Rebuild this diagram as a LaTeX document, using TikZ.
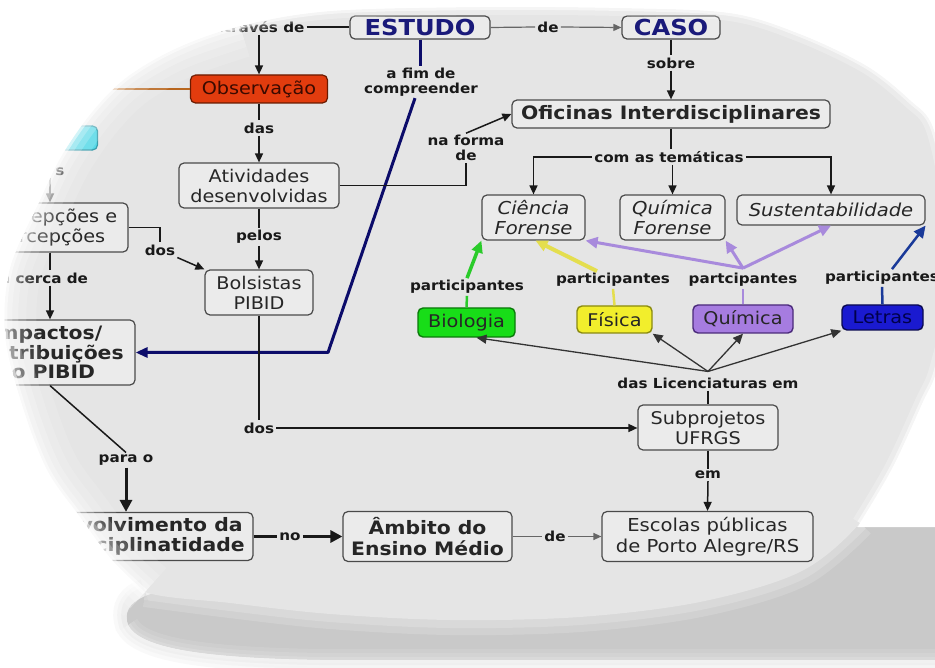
\documentclass[tikz,border=0pt]{standalone}
\usepackage{fontspec}
\setmainfont{DejaVu Sans}[FakeStretch=1.1]
\usetikzlibrary{arrows.meta,calc}

\definecolor{pagegray}{HTML}{E5E5E5}
\definecolor{boxfill}{HTML}{EBEBEB}
\definecolor{boxline}{HTML}{4A4A4A}
\definecolor{shadowgray}{HTML}{C9C9C9}
\definecolor{navy}{HTML}{0C0C6A}
\definecolor{titleblue}{HTML}{1A1A7A}
\definecolor{obsred}{HTML}{E23C0E}
\definecolor{obsline}{HTML}{6A1A00}
\definecolor{obstext}{HTML}{3A0A00}
\definecolor{bioGreen}{HTML}{18DD18}
\definecolor{bioDark}{HTML}{0A7A0A}
\definecolor{bioLine}{HTML}{2ACB2A}
\definecolor{fisYellow}{HTML}{F2EE2C}
\definecolor{fisDark}{HTML}{8A8A10}
\definecolor{fisLine}{HTML}{E4DE4E}
\definecolor{quiPurple}{HTML}{A67CE0}
\definecolor{quiDark}{HTML}{4A2A7A}
\definecolor{quiLine}{HTML}{A88ADC}
\definecolor{letBlue}{HTML}{1A1AD0}
\definecolor{letDark}{HTML}{0A0A50}
\definecolor{letText}{HTML}{00004A}
\definecolor{letLine}{HTML}{1A3A99}
\definecolor{cyanbox}{HTML}{40D4E4}
\definecolor{cyanDark}{HTML}{2090A0}
\definecolor{orangeline}{HTML}{B8661E}

% rim of the light oval along the white page
\newcommand\rimpoints{(145,592) (112,560) (80,517) (47,470) (22,405) (5,335) (10,268) (40,200) (62,155) (92,112) (127,77) (177,48) (240,26) (330,11) (480,7) (620,8) (730,13) (800,34) (867,66) (910,100) (933,127) (948,200) (951,300) (937,370) (923,402) (893,467) (860,523)}
% left-hand stretch of that rim, which fades more widely
\newcommand\leftrim{plot[smooth, tension=0.55] coordinates {(145,592) (112,560) (80,517) (47,470) (22,405) (5,335) (10,268) (40,200) (62,155) (92,112) (127,77) (177,48) (240,26)}}
% outline of the light oval the map sits on
\newcommand\lightpath{plot[smooth cycle, tension=0.55] coordinates {\rimpoints (800,572) (700,602) (580,617) (450,620) (330,614) (230,603)}}
% part of the oval that borders the white page
\newcommand\edgepath{plot[smooth, tension=0.55] coordinates {\rimpoints}}
% part of the oval that borders its shadow
\newcommand\bottompath{plot[smooth, tension=0.55] coordinates {(860,523) (800,572) (700,602) (580,617) (450,620) (330,614) (230,603) (145,592)}}
% drop shadow below the oval
\newcommand\shadowpath{(858,527) -- (945,527) -- (945,660) -- (320,660) .. controls (200,658) and (140,648) .. (128,625) .. controls (120,600) and (150,590) .. (200,585) -- (600,560) -- cycle}
% outer rim of the shadow
\newcommand\shadowrim{(945,660) -- (320,660) .. controls (200,658) and (140,648) .. (128,625) .. controls (122,606) and (132,596) .. (145,592)}
% lower edge of the shadow
\newcommand\shadowfoot{(945,660) -- (320,660) .. controls (200,658) and (140,648) .. (128,625)}
% outline of oval and shadow together
\newcommand\unionpath{plot[smooth, tension=0.55] coordinates {\rimpoints} -- (858,527) -- (945,527) -- (945,660) -- (320,660) .. controls (200,658) and (140,648) .. (128,625) .. controls (122,606) and (132,596) .. (145,592) -- cycle}

\tikzset{
  sz/.style 2 args={minimum width=#1pt, minimum height=#2pt},
  concept/.style={draw=boxline, line width=1.2pt, fill=boxfill, rounded corners=5pt,
    align=center, inner sep=0pt, text=black!85, font=\fontsize{17.5}{20}\selectfont},
  boldconcept/.style={concept, font=\bfseries\fontsize{18.5}{20.5}\selectfont},
  themebox/.style={concept, font=\itshape\fontsize{17.8}{20.5}\selectfont},
  colorbox/.style={concept, line width=1.4pt, font=\fontsize{17.5}{20}\selectfont},
  titlebox/.style={concept, font=\bfseries\fontsize{22}{24}\selectfont, text=titleblue},
  linklabel/.style={font=\bfseries\fontsize{13.8}{14.5}\selectfont, align=center,
    inner sep=2pt, text=black!90},
  link/.style={draw=black!90, line width=1.5pt},
  arrow/.style={link, -{Triangle[length=9pt,width=8pt]}},
  thickarrow/.style={draw=black!90, line width=3pt, -{Triangle[length=12pt,width=12pt]}},
  graylink/.style={draw=black!60, line width=1.2pt},
  grayarrow/.style={graylink, -{Triangle[length=8pt,width=7pt]}},
  hubarrow/.style={draw=black!80, line width=1.3pt, -{Triangle[length=10pt,width=9pt]}},
  colortip/.style={-{Triangle[length=12pt,width=11pt]}},
}

\begin{document}
\begin{tikzpicture}[x=1pt,y=-1pt]
\useasboundingbox (0,0) rectangle (935,668);
\fill[white] (0,0) rectangle (935,668);

% shadow and oval
\fill[shadowgray] \shadowpath;
\fill[pagegray] \lightpath;
\foreach \w/\o in {30/0.3,16/0.4}{\draw[pagegray, line width=\w pt, opacity=\o] \bottompath;}

\begin{scope}
\clip \lightpath;

% ---------- nodes ----------
\node[linklabel] (atraves) at (259,27) {através de};
\node[titlebox, sz={140}{23}] (estudo) at (420,27.5) {ESTUDO};
\node[linklabel] (de1) at (548,27) {de};
\node[titlebox, sz={98}{23}] (caso) at (671,27.5) {CASO};
\node[linklabel] (sobre) at (671,63) {sobre};
\node[boldconcept, sz={318}{28}] (oficinas) at (671,114) {Oficinas Interdisciplinares};
\node[linklabel] (afim) at (421,82) {a fim de\\compreender};

\node[concept, sz={137}{28}, fill=obsred, draw=obsline, text=obstext] (observ) at (259,89) {Observação};
\node[linklabel] (das) at (259,128) {das};
\node[concept, sz={160}{45}] (ativ) at (259,185.5) {Atividades\\desenvolvidas};
\node[linklabel] (pelos) at (259,237) {pelos};
\node[concept, sz={108}{45}] (bolsistas) at (259,292.5) {Bolsistas\\PIBID};
\node[linklabel] (naforma) at (466,148) {na forma\\de};

\node[linklabel] (comas) at (669,157) {com as temáticas};
\node[themebox, sz={103}{45}] (ciencia) at (533.5,217.5) {Ciência\\Forense};
\node[themebox, sz={105}{45}] (qforense) at (672.5,217.5) {Química\\Forense};
\node[themebox, sz={188}{30}] (sust) at (831,210) {Sustentabilidade};

\node[linklabel] (partbio) at (467,287) {participantes};
\node[colorbox, sz={97}{29}, fill=bioGreen, draw=bioDark] (biologia) at (466.5,322.5) {Biologia};
\node[linklabel] (partfis) at (613,280) {participantes};
\node[colorbox, sz={75}{27}, fill=fisYellow, draw=fisDark] (fisica) at (614.5,319.5) {Física};
\node[linklabel] (partqui) at (743,280) {partcipantes};
\node[colorbox, sz={100}{28}, fill=quiPurple, draw=quiDark] (quimica) at (743,319) {Química};
\node[linklabel] (partlet) at (882,278) {participantes};
\node[colorbox, sz={81}{25}, fill=letBlue, draw=letDark, text=letText] (letras) at (882.5,317.5) {Letras};

\node[linklabel] (daslic) at (708,383) {das Licenciaturas em};
\node[concept, sz={140}{45}] (subproj) at (708,427.5) {Subprojetos\\UFRGS};
\node[linklabel] (em) at (708,475) {em};
\node[concept, sz={211}{50}, font=\fontsize{17.8}{20.5}\selectfont] (escolas) at (707.5,536.5) {Escolas públicas\\de Porto Alegre/RS};
\node[linklabel] (de2) at (555,536.5) {de};
\node[boldconcept, sz={169}{50}] (ambito) at (427.5,536.5) {Âmbito do\\Ensino Médio};
\node[linklabel] (no) at (290,536.5) {no};
\node[boldconcept, sz={255}{48}] (desenv) at (125.5,536.5) {Desenvolvimento da\\Interdisciplinatidade};
\node[linklabel] (parao) at (126,460) {para o};

\node[boldconcept, sz={178}{65}, font=\bfseries\fontsize{18.5}{19.5}\selectfont] (impactos) at (46,352.5) {Impactos/\\contribuições\\do PIBID};
\node[linklabel] (acerca) at (44,278) {a cerca de};
\node[concept, sz={156}{49}] (concep) at (50,227.5) {Concepções e\\percepções};
\node[linklabel] (dos1) at (160,250) {dos};
\node[linklabel] (dos2) at (259,428) {dos};
\node[linklabel] (slabel) at (60,172) {s};
\node[concept, sz={115}{24}, fill=cyanbox, draw=cyanDark] (cyanbox) at (40,138) {};
\coordinate (offleft) at (40,89);

% ---------- connectors ----------
\draw[link] (atraves.east) -- (atraves.east -| estudo.west);
\draw[arrow] (atraves.south) -- (observ.north);
\draw[graylink] (estudo.east) -- (de1.west);
\draw[grayarrow] (de1.east) -- (caso.west);
\draw[link] (caso.south) -- (sobre.north);
\draw[arrow] (sobre.south) -- (oficinas.north);

\draw[navy, line width=3pt] (estudo.south) -- (estudo.south |- afim.north);
\coordinate (navybend) at (328,352.5);
\draw[navy, line width=3pt, line join=round, -{Triangle[length=12pt,width=10pt]}]
  ([xshift=-6pt]afim.south) -- (navybend) -- (impactos.east);

\draw[orangeline, line width=2.5pt] (offleft) -- (observ.west);
\draw[link] (observ.south) -- (das.north);
\draw[arrow] (das.south) -- (ativ.north);
\draw[link] (ativ.south) -- (pelos.north);
\draw[arrow] (pelos.south) -- (bolsistas.north);
\draw[link] (ativ.east) -| (naforma.south);
\draw[arrow] (naforma.north) -- (oficinas.west);

\draw[link] (oficinas.south) -- (oficinas.south |- comas.north);
\draw[arrow] (comas.west) -| (ciencia.north);
\draw[arrow] (qforense.north |- comas.south) -- (qforense.north);
\draw[arrow] (comas.east) -| (sust.north);

\draw[bioLine, line width=2.5pt] (biologia.north) -- (partbio.south);
\draw[bioLine, line width=3.5pt, colortip] (partbio.north) -- (ciencia.south west);
\draw[fisLine, line width=2.5pt] (fisica.north) -- (partfis.south);
\draw[fisLine, line width=4pt, colortip] ([xshift=-16pt]partfis.north) -- ([xshift=2pt]ciencia.south);
\draw[quiLine, line width=2.5pt] (quimica.north) -- (partqui.south);
\coordinate (quihub) at ([yshift=3pt]partqui.north);
\draw[quiLine, line width=3pt, colortip] (quihub) -- (ciencia.south east);
\draw[quiLine, line width=3pt, colortip] (quihub) -- (qforense.south east);
\draw[quiLine, line width=3pt, colortip] (quihub) -- (sust.south);
\draw[letLine, line width=2.5pt] (letras.north) -- (partlet.south);
\draw[letLine, line width=2.5pt, colortip] ([xshift=10pt]partlet.north) -- (sust.south east);

\coordinate (lichub) at ([yshift=4pt]daslic.north);
\draw[hubarrow] (lichub) -- ([xshift=10pt]biologia.south);
\draw[hubarrow] (lichub) -- (fisica.south east);
\draw[hubarrow] (lichub) -- (quimica.south);
\draw[hubarrow] (lichub) -- (letras.south west);
\draw[link, line width=1.2pt] (daslic.south) -- (subproj.north);

\draw[link] (bolsistas.south) -- (dos2.north);
\draw[arrow] (dos2.east) -- (dos2.east -| subproj.west);
\draw[link] (subproj.south) -- (em.north);
\draw[arrow] (em.south) -- (escolas.north);

\draw[link] (concep.east) -| (dos1.north);
\draw[arrow] (dos1.south east) -- (bolsistas.north west);
\draw[link] (concep.south) -- (concep.south |- acerca.north);
\draw[arrow] (concep.south |- acerca.south) -- (concep.south |- impactos.north);
\draw[arrow, draw=black!60] ([xshift=-10pt]slabel.south) -- (concep.north);

\draw[link] ([xshift=4pt]impactos.south) -- (parao.north);
\draw[thickarrow] (parao.south) -- (parao.south |- desenv.north);
\draw[link, line width=2.2pt] (desenv.east) -- (no.west);
\draw[thickarrow] (no.east) -- (ambito.west);
\draw[graylink] (ambito.east) -- (de2.west);
\draw[grayarrow] (de2.east) -- (escolas.west);
\end{scope}

% white page outside the oval and its shadow
\fill[white, even odd rule] (-40,-40) rectangle (975,710) \unionpath;
% soft rims
\foreach \w/\o in {26/0.1,18/0.12,10/0.15}{\draw[shadowgray, line width=\w pt, opacity=\o] \shadowrim;}
\foreach \w/\o in {22/0.1,14/0.12,6/0.15}{\draw[white, line width=\w pt, opacity=\o] \shadowfoot;}
\foreach \w/\o in {64/0.12,44/0.15,28/0.2}{\draw[white, line width=\w pt, opacity=\o] \leftrim;}
\foreach \w/\o in {16/0.25,6/0.5}{\draw[white, line width=\w pt, opacity=\o] \edgepath;}
\end{tikzpicture}
\end{document}
